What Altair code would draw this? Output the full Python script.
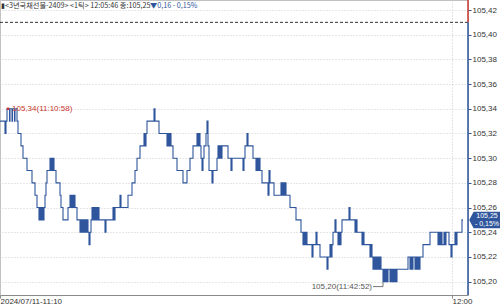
import altair as alt
import pandas as pd

# ---- data ----
tick = [0, 5, 6, 7, 9.5, 10, 12, 12.5, 14.5, 15, 17, 18, 21, 23, 27, 32, 35, 37, 39, 40,
        41, 42, 43, 44, 45, 46, 47, 50, 51, 51.5, 52.5, 53, 54, 56, 60, 61, 63, 68, 70, 71,
        72, 73, 74, 75, 77, 80, 81, 82, 83, 84, 85, 86, 87, 88, 89, 90, 91, 92, 93, 94,
        95, 96, 97, 98, 99, 105, 106, 113, 114, 115, 120, 121, 128, 132, 135, 137, 140, 144, 145, 146,
        147, 154, 155, 159, 167, 168, 169, 170, 171, 173, 177, 183, 187, 190, 193, 197, 198, 199, 200, 201,
        202, 203, 204, 206, 207, 208, 209, 212, 213, 217, 218, 219, 220, 221, 222, 228, 231, 232, 243, 244,
        245, 247, 248, 253, 256, 257, 258, 259, 260, 262, 268, 269, 270, 274, 281, 282, 283, 284, 285, 286,
        290, 296, 301, 303, 304, 305, 306, 307, 312, 313, 316, 317, 320, 327, 328, 330, 331, 332, 333, 335,
        336, 338, 339, 340, 341, 342, 349, 350, 355, 356, 357, 362, 363, 364, 370, 371, 372, 373, 374, 375,
        376, 377, 378, 379, 380, 381, 383, 384, 385, 386, 387, 388, 390, 391, 392, 393, 394, 395, 396, 397,
        398, 408, 410, 411, 412, 413, 415, 416, 417, 418, 419, 420, 423, 430, 438, 439, 440, 441, 442, 443,
        444, 445, 446, 449, 451, 452, 455, 456, 457, 462, 463]
price = [105.33, 105.32, 105.33, 105.34, 105.33, 105.34, 105.33, 105.34, 105.33, 105.34, 105.33, 105.32, 105.31, 105.30, 105.29, 105.28, 105.27, 105.26, 105.25, 105.26,
         105.25, 105.26, 105.25, 105.26, 105.27, 105.28, 105.29, 105.30, 105.29, 105.30, 105.29, 105.30, 105.29, 105.28, 105.27, 105.26, 105.25, 105.26, 105.27, 105.26,
         105.27, 105.26, 105.27, 105.26, 105.25, 105.24, 105.25, 105.24, 105.25, 105.24, 105.25, 105.24, 105.25, 105.24, 105.23, 105.24, 105.25, 105.26, 105.25, 105.26,
         105.25, 105.26, 105.25, 105.26, 105.25, 105.24, 105.25, 105.26, 105.25, 105.26, 105.27, 105.26, 105.27, 105.28, 105.29, 105.30, 105.31, 105.32, 105.31, 105.32,
         105.33, 105.34, 105.33, 105.32, 105.31, 105.32, 105.31, 105.32, 105.31, 105.30, 105.29, 105.28, 105.29, 105.30, 105.31, 105.32, 105.31, 105.32, 105.31, 105.30,
         105.29, 105.30, 105.31, 105.32, 105.33, 105.31, 105.29, 105.28, 105.29, 105.30, 105.31, 105.30, 105.31, 105.30, 105.31, 105.30, 105.29, 105.30, 105.29, 105.30,
         105.31, 105.32, 105.31, 105.30, 105.29, 105.30, 105.29, 105.30, 105.29, 105.28, 105.27, 105.29, 105.28, 105.27, 105.28, 105.27, 105.28, 105.27, 105.28, 105.27,
         105.26, 105.25, 105.24, 105.23, 105.24, 105.23, 105.24, 105.23, 105.22, 105.23, 105.24, 105.23, 105.22, 105.21, 105.22, 105.23, 105.22, 105.23, 105.24, 105.25,
         105.24, 105.23, 105.24, 105.23, 105.24, 105.25, 105.26, 105.25, 105.24, 105.25, 105.24, 105.23, 105.24, 105.23, 105.22, 105.23, 105.22, 105.21, 105.22, 105.21,
         105.22, 105.21, 105.22, 105.21, 105.22, 105.21, 105.20, 105.21, 105.20, 105.21, 105.20, 105.21, 105.20, 105.21, 105.20, 105.21, 105.20, 105.21, 105.20, 105.21,
         105.21, 105.22, 105.21, 105.22, 105.21, 105.22, 105.21, 105.22, 105.21, 105.22, 105.21, 105.22, 105.23, 105.24, 105.23, 105.24, 105.23, 105.24, 105.23, 105.23,
         105.24, 105.23, 105.24, 105.23, 105.22, 105.23, 105.24, 105.23, 105.24, 105.25, 105.25]

y_tick_values = [105.20, 105.22, 105.24, 105.26, 105.28, 105.30, 105.32, 105.34, 105.36, 105.38, 105.40, 105.42]
x_tick_values = [0, 452]
x_tick_labels = ["2024/07/11-11:10", "12:00"]

prev_close = 105.41
last_price = 105.25
high_tick, high_price, high_label = 8, 105.34, "105,34(11:10:58)"
low_tick, low_price, low_label = 383, 105.20, "105,20(11:42:52)"
title_main = "▮<3년국채선물-2409> <1틱> 12:05:46 종:105,25"
title_change = "▼0,16  - 0,15%"
box_lines = ["105,25", "- 0,15%"]

X_DOMAIN = [0, 468]
Y_DOMAIN = [105.1892, 105.4281]

BLUE = "#2f569c"
RED = "#c8372d"
FONT = "Liberation Sans"
KFONT = "Noto Sans CJK KR"

df = pd.DataFrame({"tick": tick, "price": price})
xs = alt.Scale(domain=X_DOMAIN, nice=False, zero=False)
ys = alt.Scale(domain=Y_DOMAIN, nice=False, zero=False)

x_label_expr = " : ".join(
    [f"datum.value == {v} ? '{l}'" for v, l in zip(x_tick_values, x_tick_labels)]) + " : ''"

x_axis = alt.Axis(values=x_tick_values, labelExpr=x_label_expr, grid=True, gridDash=[1, 2],
                  gridColor="#c8c8c8", domainColor="#8a8a8a", tickColor="#8a8a8a", tickSize=3,
                  labelAlign="left", labelBaseline="middle", labelPadding=3, labelFontSize=8,
                  labelColor="#333", labelFont=FONT, labelOverlap=False, labelFlush=False, title=None)
y_axis = alt.Axis(orient="right", values=y_tick_values,
                  labelExpr="replace(format(datum.value, '.2f'), '.', ',')",
                  grid=True, gridDash=[1, 2], gridColor="#cfcfcf", domain=False,
                  tickColor=BLUE, tickSize=3, labelPadding=1, labelFontSize=8,
                  labelOverlap=False, labelFlush=False, labelBound=False,
                  labelColor="#333", labelFont=FONT, labelBaseline="middle", title=None)


def X(field):
    return alt.X(field, scale=xs, axis=None, title=None)


def Y(field):
    return alt.Y(field, scale=ys, axis=None, title=None)


line = alt.Chart(df).mark_line(interpolate="step-after", color=BLUE, strokeWidth=1.1).encode(
    x=alt.X("tick:Q", scale=xs, axis=x_axis, title=None),
    y=alt.Y("price:Q", scale=ys, axis=y_axis, title=None),
)

prev_rule = alt.Chart(pd.DataFrame({"p": [prev_close]})).mark_rule(
    color="#333", strokeDash=[3, 2], strokeWidth=1).encode(y=Y("p:Q"))

# right axis line: red above previous close, blue below
axis_df = pd.DataFrame({"x": [X_DOMAIN[1], X_DOMAIN[1]], "y1": [prev_close, Y_DOMAIN[0]],
                        "y2": [Y_DOMAIN[1], prev_close], "c": ["up", "down"]})
axis_rule = alt.Chart(axis_df).mark_rule(strokeWidth=1.5).encode(
    x=X("x:Q"), y=Y("y1:Q"), y2="y2:Q",
    color=alt.Color("c:N", scale=alt.Scale(domain=["up", "down"], range=[RED, BLUE]), legend=None),
)

# high annotation
hi_df = pd.DataFrame({"t": [high_tick], "p": [high_price], "lab": [high_label]})
hi_point = alt.Chart(hi_df).mark_point(shape="square", filled=True, size=6, color=RED, opacity=1).encode(
    x=X("t:Q"), y=Y("p:Q"))
hi_text = alt.Chart(hi_df).mark_text(align="left", baseline="middle", dx=4, fontSize=8, font=FONT,
                                     color=RED).encode(x=X("t:Q"), y=Y("p:Q"), text="lab:N")

# low annotation with leader
lo_line_df = pd.DataFrame({"t": [low_tick, low_tick, low_tick - 10],
                           "p": [low_price, low_price - 0.004, low_price - 0.004], "o": [0, 1, 2]})
lo_line = alt.Chart(lo_line_df).mark_line(color="#777", strokeWidth=1).encode(
    x=X("t:Q"), y=Y("p:Q"), order="o:Q")
lo_text = alt.Chart(pd.DataFrame({"t": [low_tick - 10], "p": [low_price - 0.004], "lab": [low_label]})).mark_text(
    align="right", baseline="middle", dx=-1, fontSize=8, font=FONT, color="#555").encode(
    x=X("t:Q"), y=Y("p:Q"), text="lab:N")

# last price box on the right axis
box_df = pd.DataFrame({"p": [last_price]})
box = alt.Chart(box_df).mark_point(
    shape="M-1,0 L-0.72,-0.52 L1,-0.52 L1,0.52 L-0.72,0.52 Z", filled=True, size=1000,
    color=BLUE, opacity=1, strokeWidth=0).encode(x=alt.value(485), y=Y("p:Q"))
box_t1 = alt.Chart(pd.DataFrame({"p": [last_price], "lab": [box_lines[0]]})).mark_text(
    align="center", baseline="middle", dy=-4, fontSize=7, font=FONT, color="white").encode(
    x=alt.value(487), y=Y("p:Q"), text="lab:N")
box_t2 = alt.Chart(pd.DataFrame({"p": [last_price], "lab": [box_lines[1]]})).mark_text(
    align="center", baseline="middle", dy=4, fontSize=7, font=FONT, color="white").encode(
    x=alt.value(487), y=Y("p:Q"), text="lab:N")

# header text
t_main = alt.Chart(pd.DataFrame({"lab": [title_main]})).mark_text(
    align="left", baseline="middle", fontSize=7.2, font=KFONT, color="#333").encode(
    x=alt.value(1), y=alt.value(6), text="lab:N")
t_change = alt.Chart(pd.DataFrame({"lab": [title_change]})).mark_text(
    align="left", baseline="middle", fontSize=7.2, font=KFONT, color=BLUE).encode(
    x=alt.value(150), y=alt.value(6), text="lab:N")

chart = alt.layer(line, prev_rule, axis_rule, hi_point, hi_text, lo_line, lo_text,
                  box, box_t1, box_t2, t_main, t_change).resolve_axis(
    x="independent", y="independent").properties(
    width=468, height=295,
    autosize=alt.AutoSizeParams(type="none"),
    padding={"left": 0, "top": 0, "right": 32, "bottom": 12},
    background="white",
).configure_view(stroke="#c0c0c0").configure_axisY(labelOverlap=False)

chart.save("out.html", embed_options={"renderer": "svg", "actions": False})
